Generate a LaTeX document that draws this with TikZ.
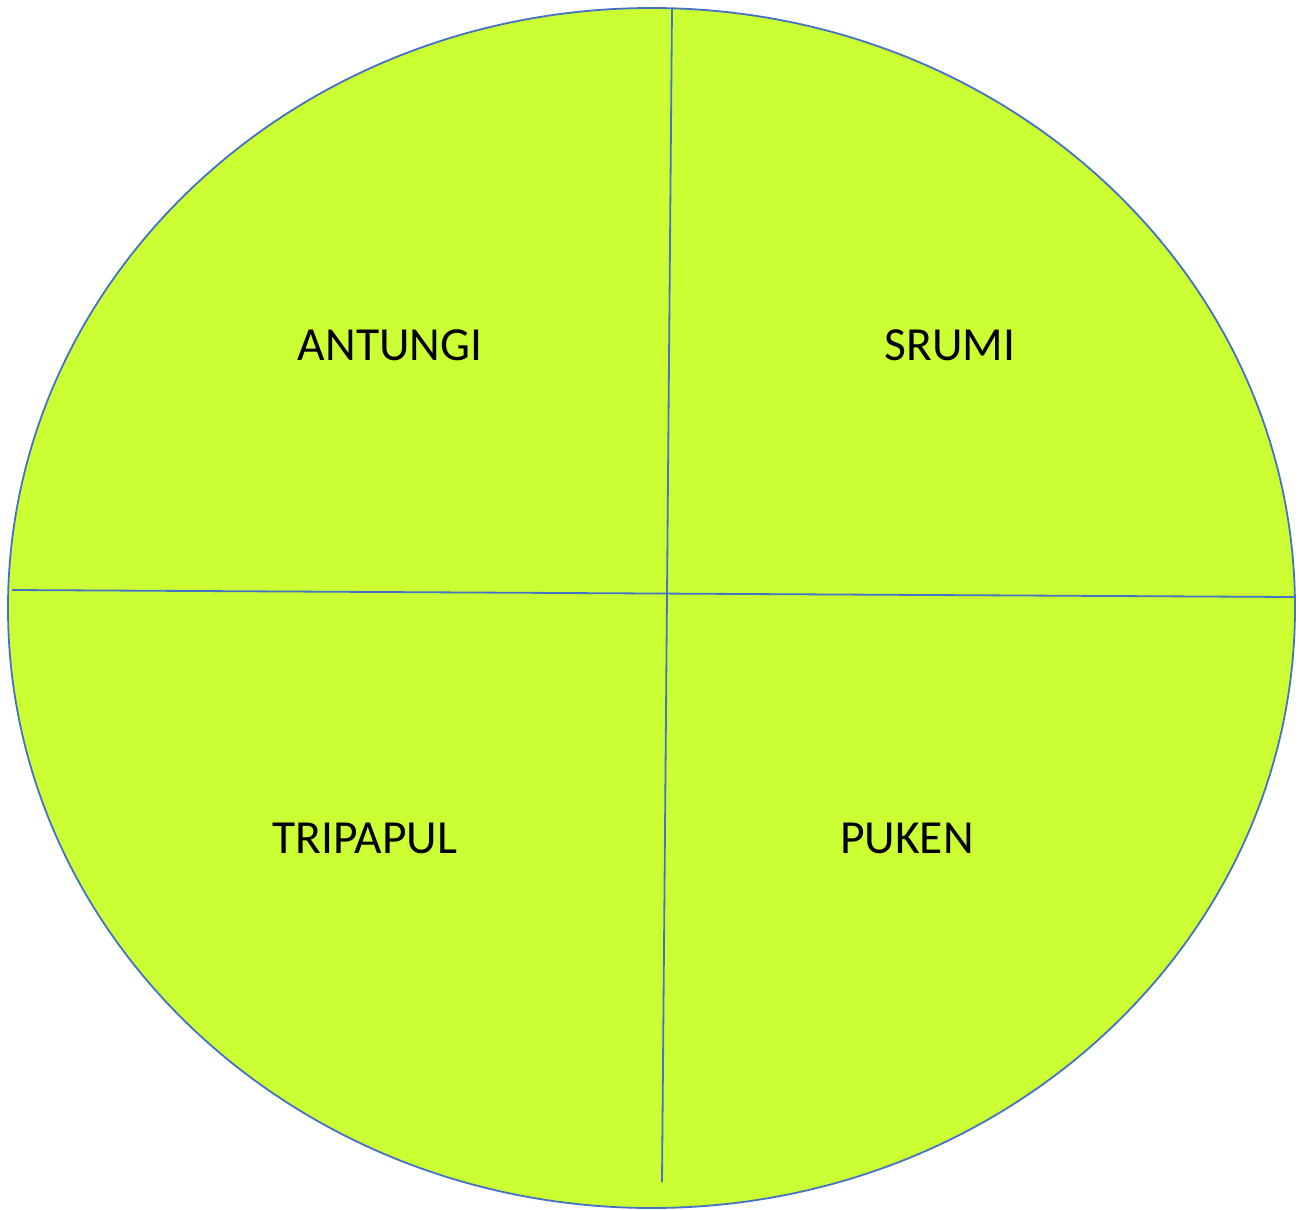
\documentclass[tikz,border=0pt]{standalone}
\usepackage{fontspec}
\setmainfont{Carlito}
\definecolor{lime}{HTML}{CCFF33}
\definecolor{edge}{HTML}{4472C4}
\begin{document}
\begin{tikzpicture}[x=1pt,y=-1pt,
  lbl/.style={font=\fontsize{47.5}{52}\selectfont, text=black, inner sep=0pt},
  divider/.style={draw=edge, line width=1.8pt}]
\useasboundingbox (0,0) rectangle (1299,1210);
\fill[lime, draw=edge, line width=1.8pt] (651.5,608) ellipse [x radius=643.5, y radius=600];
\coordinate (vt) at (672,9);
\coordinate (vb) at (662,1182);
\coordinate (hl) at (12,590);
\coordinate (hr) at (1294,597);
\draw[divider] (vt) -- (vb);
\draw[divider] (hl) -- (hr);
\node[lbl] (a) at (390,345) {ANTUNGI};
\node[lbl] (s) at (950,345) {SRUMI};
\node[lbl] (t) at (365,838) {TRIPAPUL};
\node[lbl] (p) at (907,838) {PUKEN};
\end{tikzpicture}
\end{document}
